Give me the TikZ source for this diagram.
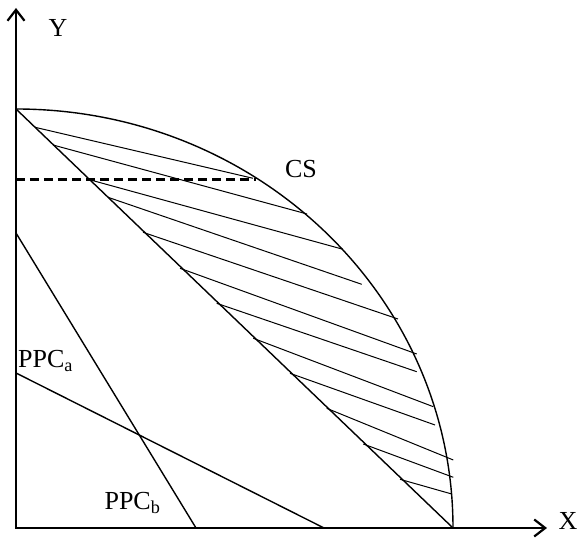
\documentclass[tikz,border=0pt]{standalone}
\usepackage{fontspec}
\setmainfont{Liberation Serif}
\usetikzlibrary{arrows.meta}

\begin{document}
\begin{tikzpicture}[x=1pt, y=1pt, font=\fontsize{26}{30}\selectfont,
    axis/.style={line width=2.6pt, {Straight Barb[length=11pt, width=17pt, line width=2.2pt]}-{Straight Barb[length=11pt, width=17pt, line width=2.2pt]}},
    curve/.style={line width=1.4pt},
    hatch/.style={line width=1pt}]
    \useasboundingbox (-16,-12) rectangle (563,528);
    \coordinate (O) at (0,0);
    \coordinate (ymax) at (0,520);
    \coordinate (xmax) at (531,0);
    \draw[axis] (ymax) -- (O) -- (xmax);
    % consumption possibility curve and its chord
    \coordinate (cstop) at (0,419);
    \coordinate (csend) at (437,0);
    \draw[curve] (cstop) arc[start angle=90, end angle=0, x radius=437pt, y radius=419pt];
    \draw[curve] (cstop) -- (csend);
    \foreach \ax/\ay/\bx/\by in {19/400.7/237/349.7, 37/383/291/314, 72/348.7/327/278.7,
        92/330.7/345.7/243.7, 127/295.7/382/209, 164/259.7/400.7/174,
        200.7/224.7/400.7/156.3, 237.3/189.7/417.3/121.3, 274/154.7/419/103,
        310.7/119.7/437.3/68, 347.3/84/437.3/50.7, 384/48.7/435.7/34}
        \draw[hatch] (\ax,\ay) -- (\bx,\by);
    \coordinate (dashstart) at (0,348.7);
    \coordinate (dashend) at (240,348.7);
    \draw[line width=2.6pt, dash pattern=on 9pt off 5pt] (dashstart) -- (dashend);
    % production possibility curves
    \coordinate (pa0) at (0,155);
    \coordinate (pa1) at (308,0);
    \coordinate (pb0) at (0,295);
    \coordinate (pb1) at (180,0);
    \draw[curve] (pa0) -- (pa1);
    \draw[curve] (pb0) -- (pb1);
    \node (ylab) at (42,500) {Y};
    \node (xlab) at (552,7) {X};
    \node (cslab) at (285,359) {CS};
    \node[anchor=west, inner sep=0pt] (ppca) at (2,167) {PPC\textsubscript{a}};
    \node (ppcb) at (116.5,25) {PPC\textsubscript{b}};
\end{tikzpicture}
\end{document}
